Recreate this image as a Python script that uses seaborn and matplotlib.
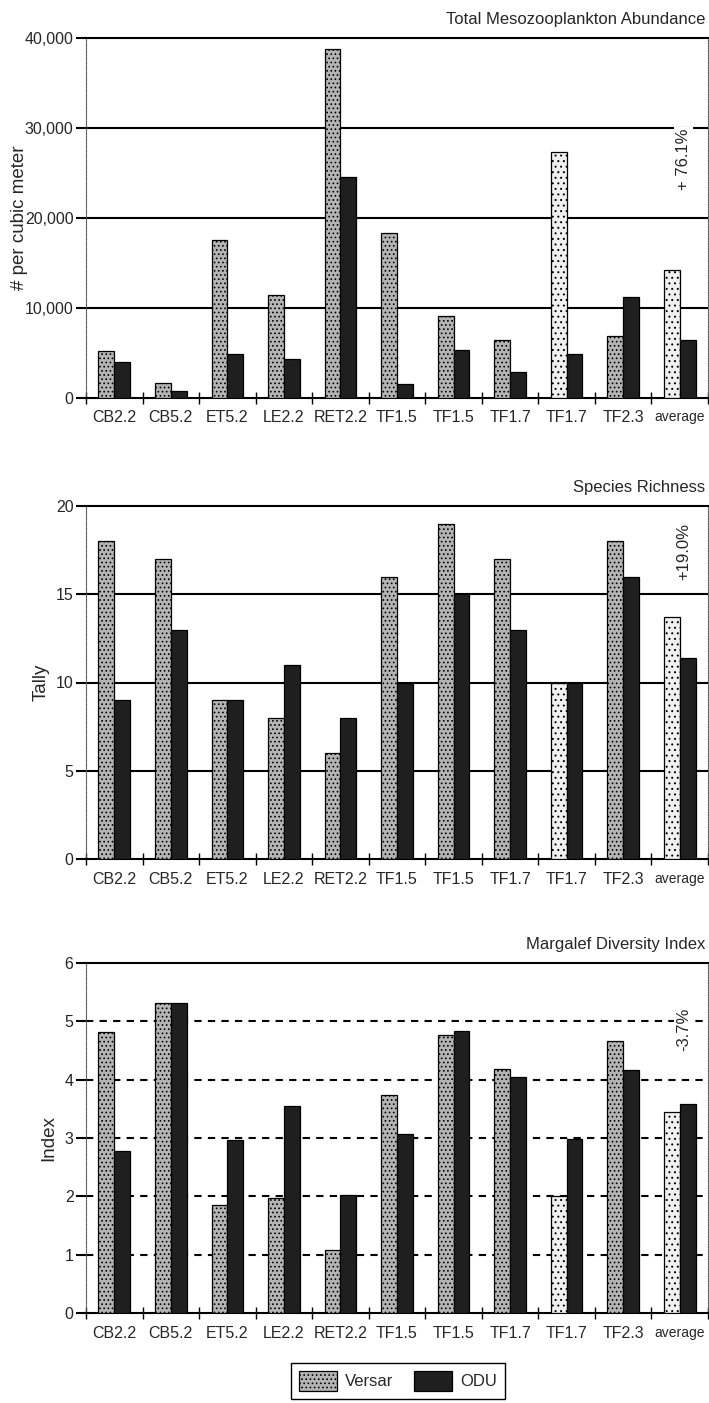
import numpy as np
import pandas as pd
import matplotlib
matplotlib.use("Agg")
import matplotlib.pyplot as plt
from matplotlib.patches import Patch
from matplotlib.ticker import FixedLocator, StrMethodFormatter
import seaborn as sns

# ---- data -------------------------------------------------------------
stations = ["CB2.2", "CB5.2", "ET5.2", "LE2.2", "RET2.2", "TF1.5", "TF1.5",
            "TF1.7", "TF1.7", "TF2.3", "average"]
sources = ["Versar", "ODU"]

abundance_versar = [5200, 1700, 17600, 11400, 38800, 18300, 9100, 6450, 27350, 6900, 14200]
abundance_odu = [4000, 800, 4900, 4300, 24600, 1600, 5300, 2900, 4850, 11200, 6400]

richness_versar = [18, 17, 9, 8, 6, 16, 19, 17, 10, 18, 13.7]
richness_odu = [9, 13, 9, 11, 8, 10, 15, 13, 10, 16, 11.4]

margalef_versar = [4.82, 5.31, 1.86, 1.98, 1.08, 3.73, 4.76, 4.18, 2.01, 4.67, 3.44]
margalef_odu = [2.78, 5.32, 2.97, 3.55, 2.03, 3.07, 4.83, 4.04, 2.98, 4.17, 3.58]

panel_titles = ["Total Mesozooplankton Abundance", "Species Richness", "Margalef Diversity Index"]
panel_ylabels = ["# per cubic meter", "Tally", "Index"]
panel_changes = ["+ 76.1%", "+19.0%", "-3.7%"]
panel_yticks = [[0, 10000, 20000, 30000, 40000], [0, 5, 10, 15, 20], [0, 1, 2, 3, 4, 5, 6]]

# ---- style ------------------------------------------------------------
sns.set_style("white")
plt.rcParams["font.family"] = ["Liberation Sans", "DejaVu Sans"]
plt.rcParams["hatch.linewidth"] = 0.7

VERSAR_FACE = "#b4b4b4"
VERSAR_LIGHT = "#f0f0f0"
ODU_FACE = "#1f1f1f"
light_bars = {8, 10}   # stippled lighter Versar bars


def frame(values_v, values_o):
    n = len(stations)
    return pd.DataFrame({
        "pos": list(range(n)) * 2,
        "value": list(values_v) + list(values_o),
        "source": [sources[0]] * n + [sources[1]] * n,
    })


fig = plt.figure(figsize=(7.09, 14.03), dpi=100)
H = 1403.0
W = 709.0
ax_left, ax_right = 86, 708
panel_px = [(38, 398), (506, 859), (963, 1313)]   # (top, bottom) in pixels
label_x = [-0.093, -0.058, -0.047]
change_y = [26500, 17.4, 4.87]

datasets = [(abundance_versar, abundance_odu),
            (richness_versar, richness_odu),
            (margalef_versar, margalef_odu)]

for k, ((top, bot), (vv, vo)) in enumerate(zip(panel_px, datasets)):
    ax = fig.add_axes([ax_left / W, 1 - bot / H, (ax_right - ax_left) / W, (bot - top) / H])
    df = frame(vv, vo)
    sns.barplot(data=df, x="pos", y="value", hue="source", hue_order=sources,
                palette={"Versar": VERSAR_FACE, "ODU": ODU_FACE},
                width=0.56, errorbar=None, edgecolor="black", linewidth=0.9,
                legend=False, ax=ax, zorder=3)

    # stippled texture on the Versar bars
    for i, bar in enumerate(ax.containers[0]):
        bar.set_hatch("...." if i not in light_bars else "...")
        if i in light_bars:
            bar.set_facecolor(VERSAR_LIGHT)

    yt = panel_yticks[k]
    ax.set_ylim(0, yt[-1])
    ax.set_xlim(-0.5, len(stations) - 0.5)

    # horizontal reference lines
    for v in yt[1:-1]:
        if k == 2:
            ax.axhline(v, color="black", lw=1.5, ls=(0, (3.5, 3)), zorder=1)
        else:
            ax.axhline(v, color="black", lw=1.5, zorder=1)

    # spines
    for side in ("top", "bottom"):
        ax.spines[side].set_visible(True)
        ax.spines[side].set_color("black")
        ax.spines[side].set_linewidth(1.5)
    for side in ("left", "right"):
        ax.spines[side].set_visible(True)
        ax.spines[side].set_color("#555555")
        ax.spines[side].set_linewidth(0.8)
        ax.spines[side].set_linestyle((0, (1, 1.2)))

    # y axis
    ax.yaxis.set_major_locator(FixedLocator(yt))
    if k == 0:
        ax.yaxis.set_major_formatter(StrMethodFormatter("{x:,.0f}"))
    else:
        ax.yaxis.set_major_formatter(StrMethodFormatter("{x:.0f}"))
    ax.tick_params(axis="y", which="major", direction="out", length=7, width=1.5,
                   color="black", labelsize=11.5, pad=2, left=True)
    ax.set_ylabel(panel_ylabels[k], fontsize=13.5)
    ax.yaxis.set_label_coords(label_x[k], 0.5)

    # x axis: labels at bar groups, tick marks between groups
    ax.set_xticks(range(len(stations)))
    ax.set_xticklabels(stations)
    ax.tick_params(axis="x", which="major", length=0, labelsize=11.5, pad=9)
    for lab in ax.get_xticklabels():
        if lab.get_text() == "average":
            lab.set_fontsize(10)
    ax.set_xticks(np.arange(-0.5, len(stations) + 0.5, 1.0), minor=True)
    ax.tick_params(axis="x", which="minor", direction="inout", length=9, width=1.0,
                   color="black", bottom=True)
    ax.set_xlabel("")

    # panel title at the upper right
    ax.annotate(panel_titles[k], xy=(1, 1), xycoords="axes fraction",
                xytext=(-2, 13), textcoords="offset points",
                ha="right", va="center", fontsize=12)

    # percent difference of the averages
    ax.text(10.07, change_y[k], panel_changes[k], rotation=90, ha="center",
            va="center", fontsize=12, zorder=5,
            bbox=dict(facecolor="white", edgecolor="none", pad=1.5))

# legend
handles = [Patch(facecolor=VERSAR_FACE, edgecolor="black", hatch="....", linewidth=0.9),
           Patch(facecolor=ODU_FACE, edgecolor="black", linewidth=0.9)]
leg = fig.legend(handles=handles, labels=sources, ncol=2, loc="upper center",
                 bbox_to_anchor=(398 / W, 1 - 1355 / H), frameon=True, fancybox=False,
                 edgecolor="black", framealpha=1, fontsize=12, handlelength=2.3,
                 handleheight=1.5, handletextpad=0.5, columnspacing=1.2, borderpad=0.45)
leg.get_frame().set_linewidth(1.0)

fig.savefig("out.png", dpi=100)
